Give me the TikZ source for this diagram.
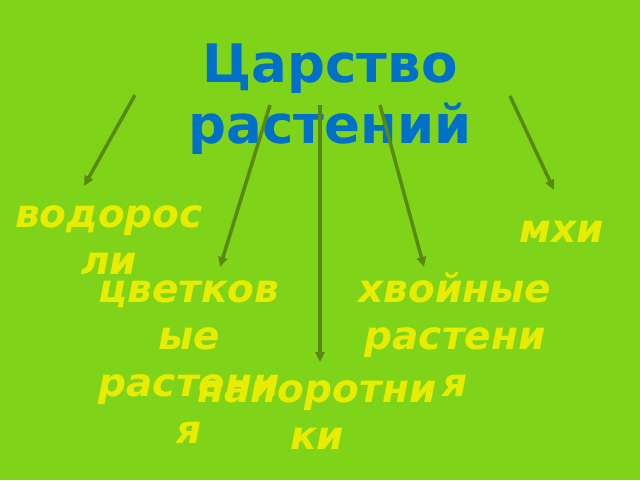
\documentclass[tikz,border=0pt]{standalone}
\usepackage{fontspec}
\setmainfont{DejaVu Sans}
\usetikzlibrary{arrows.meta}
\definecolor{bggreen}{RGB}{127,212,26}
\definecolor{titleblue}{RGB}{0,112,200}
\definecolor{labelyellow}{RGB}{232,236,0}
\definecolor{arrowgreen}{RGB}{88,138,18}
\newfontfamily\labelfont{DejaVu Sans Bold Oblique}
\newfontfamily\titlefont{DejaVu Sans Bold}
\tikzset{
  titletext/.style={text=titleblue, font=\titlefont\fontsize{53}{61}\selectfont, align=center, anchor=base, inner sep=0pt},
  labeltext/.style={text=labelyellow, font=\labelfont\fontsize{39}{47}\selectfont, align=center, anchor=base, inner sep=0pt},
  branch/.style={draw=arrowgreen, line width=3.5pt, -{Triangle[length=10pt,width=9pt]}}
}
\begin{document}
\begin{tikzpicture}[x=1pt,y=-1pt]
\fill[bggreen] (0,0) rectangle (640,480);
\useasboundingbox (0,0) rectangle (640,480);
\node[titletext] (title) at (330,143) {Царство\\растений};
\node[labeltext] (algae) at (109,274) {водорос\\ли};
\node[labeltext] (moss) at (562,242) {мхи};
\node[labeltext] (flower) at (189,443) {цветков\\ые\\растени\\я};
\node[labeltext] (conifer) at (455,396) {хвойные\\растени\\я};
\node[labeltext] (fern) at (317,449) {папоротни\\ки};
\coordinate (s1) at (135,95);
\coordinate (e1) at (84,186);
\coordinate (s2) at (270,105);
\coordinate (e2) at (220,267);
\coordinate (s3) at (320,105);
\coordinate (e3) at (320,362);
\coordinate (s4) at (380,105);
\coordinate (e4) at (424,267);
\coordinate (s5) at (510,96);
\coordinate (e5) at (554,190);
\draw[branch] (s1) -- (e1);
\draw[branch] (s2) -- (e2);
\draw[branch] (s3) -- (e3);
\draw[branch] (s4) -- (e4);
\draw[branch] (s5) -- (e5);
\end{tikzpicture}
\end{document}
